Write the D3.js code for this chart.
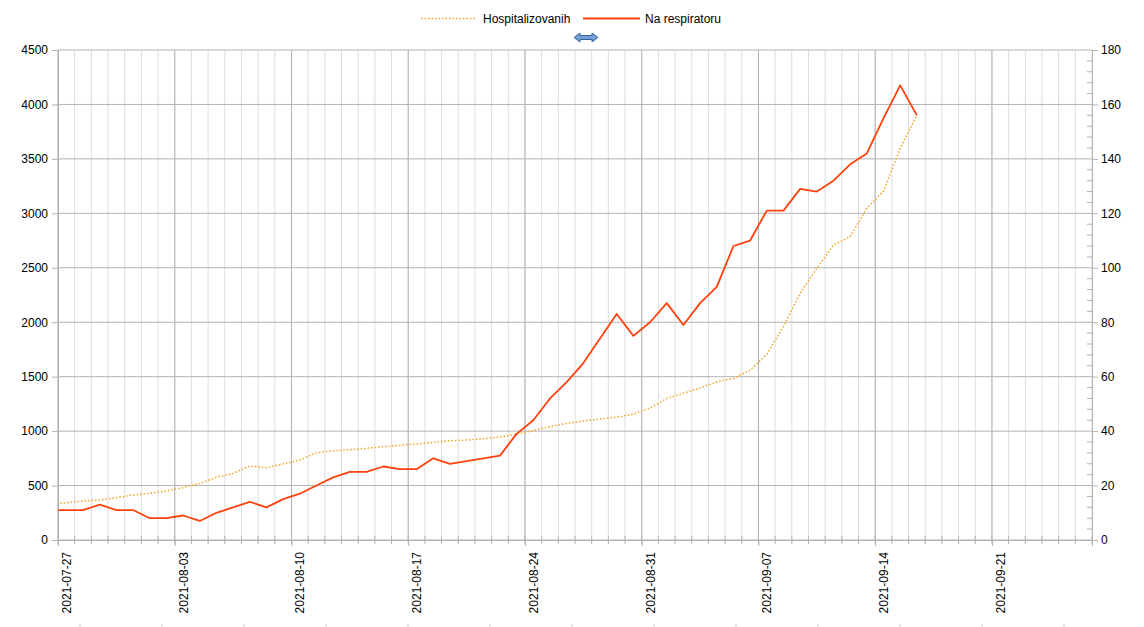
<!DOCTYPE html>
<html>
<head>
<meta charset="utf-8">
<script src="https://cdn.jsdelivr.net/npm/d3@7"></script>
<style>
  html, body { margin: 0; padding: 0; background: #fff; }
  svg { display: block; font-family: "Liberation Sans", Arial, sans-serif; }
</style>
</head>
<body>
<svg id="chart" width="1144" height="627"></svg>
<script>
// ---------- DATA ----------
const startDate = "2021-07-26"; // first reported day (points plotted at midday)
const hospitalizovanih = [
  330, 343, 358, 367, 389, 413, 429, 450, 480, 520,
  576, 612, 680, 664, 698, 735, 802, 820, 829, 842,
  857, 869, 882, 897, 912, 918, 930, 945, 972, 1005,
  1041, 1071, 1092, 1112, 1128, 1155, 1212, 1300, 1347, 1397,
  1452, 1485, 1560, 1705, 1959, 2266, 2495, 2709, 2786, 3046,
  3205, 3595, 3903
];
const naRespiratoru = [
  11, 11, 11, 13, 11, 11, 8, 8, 9, 7,
  10, 12, 14, 12, 15, 17, 20, 23, 25, 25,
  27, 26, 26, 30, 28, 29, 30, 31, 39, 44,
  52, 58, 65, 74, 83, 75, 80, 87, 79, 87,
  93, 108, 110, 121, 121, 129, 128, 132, 138, 142,
  155, 167, 156
];
const seriesNames = ["Hospitalizovanih", "Na respiratoru"];
const leftTicks = [0, 500, 1000, 1500, 2000, 2500, 3000, 3500, 4000, 4500];
const rightTicks = [0, 20, 40, 60, 80, 100, 120, 140, 160, 180];
const xDomain = ["2021-07-27", "2021-09-27"];
const xLabelDates = ["2021-07-27", "2021-08-03", "2021-08-10", "2021-08-17", "2021-08-24", "2021-08-31", "2021-09-07", "2021-09-14", "2021-09-21"];

// ---------- SETUP ----------
const parse = d3.timeParse("%Y-%m-%d");
const fmt = d3.timeFormat("%Y-%m-%d");
const svg = d3.select("#chart");
const L = 58, R = 1092, T = 50, B = 540;

const x = d3.scaleTime().domain(xDomain.map(parse)).range([L, R]);
const yL = d3.scaleLinear().domain([0, 4500]).range([B, T]);
const yR = d3.scaleLinear().domain([0, 180]).range([B, T]);

const day0 = parse(startDate);
const dates = hospitalizovanih.map((_, i) => d3.timeDay.offset(day0, i));
const rows = dates.map((d, i) => ({ t: d3.timeHour.offset(d, 12), h: hospitalizovanih[i], r: naRespiratoru[i] }));

const allDays = d3.timeDay.range(parse(xDomain[0]), d3.timeDay.offset(parse(xDomain[1]), 1));
const weekDays = xLabelDates.map(parse);

const gridMajor = "#b3b3b3", gridMinor = "#dddddd";

// minor vertical grid (daily)
svg.append("g").selectAll("line").data(allDays).join("line")
  .attr("x1", d => x(d)).attr("x2", d => x(d)).attr("y1", T).attr("y2", B)
  .attr("stroke", gridMinor).attr("stroke-width", 1);
// major vertical grid (weekly)
svg.append("g").selectAll("line").data(weekDays).join("line")
  .attr("x1", d => x(d)).attr("x2", d => x(d)).attr("y1", T).attr("y2", B)
  .attr("stroke", gridMajor).attr("stroke-width", 1);
// horizontal grid
svg.append("g").selectAll("line").data(leftTicks).join("line")
  .attr("x1", L).attr("x2", R).attr("y1", d => yL(d)).attr("y2", d => yL(d))
  .attr("stroke", gridMajor).attr("stroke-width", 1);

// ---------- AXES ----------
const gLeft = svg.append("g").attr("transform", `translate(${L},0)`)
  .call(d3.axisLeft(yL).tickValues(leftTicks).tickSize(6).tickPadding(4).tickFormat(d3.format("d")));
gLeft.select(".domain").attr("stroke", gridMajor);
gLeft.selectAll(".tick line").attr("stroke", gridMajor);
gLeft.selectAll("text").attr("font-size", 12).attr("fill", "#000").attr("font-family", "Liberation Sans, Arial, sans-serif");

// right minor ticks (every 4 units, inside)
const rightMinor = d3.range(0, 181, 4).filter(v => v % 20 !== 0);
svg.append("g").selectAll("line").data(rightMinor).join("line")
  .attr("x1", R - 5).attr("x2", R).attr("y1", d => yR(d)).attr("y2", d => yR(d))
  .attr("stroke", gridMajor);
const gRight = svg.append("g").attr("transform", `translate(${R},0)`)
  .call(d3.axisRight(yR).tickValues(rightTicks).tickSize(6).tickPadding(3).tickFormat(d3.format("d")));
gRight.select(".domain").attr("stroke", gridMajor);
gRight.selectAll(".tick line").attr("stroke", gridMajor);
gRight.selectAll("text").attr("font-size", 12).attr("fill", "#000").attr("font-family", "Liberation Sans, Arial, sans-serif");

// bottom axis: minor daily ticks
svg.append("g").selectAll("line").data(allDays).join("line")
  .attr("x1", d => x(d)).attr("x2", d => x(d)).attr("y1", B - 4).attr("y2", B + 4)
  .attr("stroke", gridMajor);
const gBottom = svg.append("g").attr("transform", `translate(0,${B})`)
  .call(d3.axisBottom(x).tickValues(weekDays).tickSize(6).tickFormat(() => ""));
gBottom.select(".domain").attr("stroke", gridMajor);
gBottom.selectAll(".tick line").attr("stroke", gridMajor);

// rotated date labels, centred on midday of their date
svg.append("g").selectAll("text").data(weekDays).join("text")
  .attr("transform", d => `translate(${x(d3.timeHour.offset(d, 12)) + 4.5},${B + 12}) rotate(-90)`)
  .attr("text-anchor", "end")
  .attr("font-size", 12).attr("fill", "#000")
  .text(d => fmt(d));

// ---------- LINES ----------
svg.append("defs").append("clipPath").attr("id", "plotclip")
  .append("rect").attr("x", L).attr("y", T - 5).attr("width", R - L).attr("height", B - T + 10);

const lineH = d3.line().x(d => x(d.t)).y(d => yL(d.h));
const lineR = d3.line().x(d => x(d.t)).y(d => yR(d.r));

const colH = "#f5a41e", colR = "#ff420e";

svg.append("path").datum(rows).attr("clip-path", "url(#plotclip)")
  .attr("d", lineH).attr("fill", "none").attr("stroke", colH)
  .attr("stroke-width", 1.5).attr("stroke-dasharray", "1.5,2");
svg.append("path").datum(rows).attr("clip-path", "url(#plotclip)")
  .attr("d", lineR).attr("fill", "none").attr("stroke", colR)
  .attr("stroke-width", 1.8).attr("stroke-linejoin", "round");

// ---------- LEGEND ----------
const lg = svg.append("g");
lg.append("line").attr("x1", 421).attr("x2", 477).attr("y1", 18.5).attr("y2", 18.5)
  .attr("stroke", colH).attr("stroke-width", 1.5).attr("stroke-dasharray", "1.5,2");
lg.append("text").attr("x", 483).attr("y", 22.5).attr("font-size", 12).attr("fill", "#000").text(seriesNames[0]);
lg.append("line").attr("x1", 583).attr("x2", 640).attr("y1", 18.5).attr("y2", 18.5)
  .attr("stroke", colR).attr("stroke-width", 1.8);
lg.append("text").attr("x", 645).attr("y", 22.5).attr("font-size", 12).attr("fill", "#000").text(seriesNames[1]);

// small double-headed arrow icon
lg.append("path")
  .attr("d", "M574,37.5 L580,33 L580,35.5 L592,35.5 L592,33 L598,37.5 L592,42 L592,39.5 L580,39.5 L580,42 Z")
  .attr("fill", "#729fcf").attr("stroke", "#3465a4").attr("stroke-width", 1);

// faint marks along bottom edge
svg.append("g").selectAll("line").data(d3.range(80, 1070, 82)).join("line")
  .attr("x1", d => d).attr("x2", d => d).attr("y1", 624).attr("y2", 627)
  .attr("stroke", "#cccccc");
</script>
</body>
</html>
